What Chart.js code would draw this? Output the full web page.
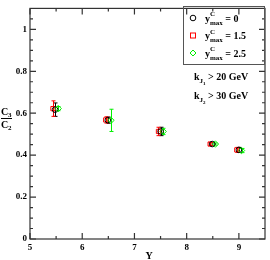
<!DOCTYPE html>
<html>
<head>
<meta charset="utf-8">
<script src="https://cdn.jsdelivr.net/npm/chart.js@4"></script>
<style>html,body{margin:0;padding:0;background:#fff}canvas{display:block}</style>
</head>
<body>
<canvas id="c" width="270" height="260"></canvas>
<script>
const FAM = '"Liberation Serif", "Times New Roman", serif';

const xTicks = [5, 6, 7, 8, 9];
const xMinor = [5.5, 6.5, 7.5, 8.5];
const yTicks = [0, 0.2, 0.4, 0.6, 0.8, 1];
const yLabels = ["0", "0.2", "0.4", "0.6", "0.8", "1"];
const yMinor = [0.05, 0.1, 0.15, 0.25, 0.3, 0.35, 0.45, 0.5, 0.55, 0.65, 0.7, 0.75, 0.85, 0.9, 0.95, 1.05];

// y_max^C = 0
const xBlack = [5.48, 6.49, 7.5, 8.49, 9.0];
const yBlack = [0.617, 0.567, 0.513, 0.453, 0.425];
const eBlack = [0.032, 0.015, 0.02, 0.006, 0.012];
// y_max^C = 1.5
const xRed = [5.44, 6.45, 7.46, 8.45, 8.96];
const yRed = [0.622, 0.568, 0.513, 0.453, 0.425];
const eRed = [0.037, 0.015, 0.02, 0.006, 0.012];
// y_max^C = 2.5
const xGreen = [5.54, 6.55, 7.55, 8.55, 9.05];
const yGreen = [0.622, 0.566, 0.513, 0.453, 0.422];
const eGreen = [0.01, 0.053, 0.015, 0.005, 0.01];

const GREEN = "#00f000";

const SERIES = [
  { label: "y_max^C = 2.5", xs: xGreen, ys: yGreen, es: eGreen, color: GREEN, style: "rectRot", r: 3.2 },
  { label: "y_max^C = 0", xs: xBlack, ys: yBlack, es: eBlack, color: "#000000", style: "circle", r: 2.8 },
  { label: "y_max^C = 1.5", xs: xRed, ys: yRed, es: eRed, color: "#ff0000", style: "rect", r: 3 }
];

const ds = SERIES.map(s => ({
  label: s.label,
  data: s.xs.map((x, i) => ({ x, y: s.ys[i] })),
  borderColor: s.color,
  backgroundColor: "rgba(0,0,0,0)",
  pointStyle: s.style,
  pointRadius: s.r,
  borderWidth: 1,
  showLine: false,
  errs: s.es
}));

const decor = {
  id: "decor",
  beforeDatasetsDraw(chart) {
    const ctx = chart.ctx, sx = chart.scales.x, sy = chart.scales.y;
    ctx.save();
    ctx.lineWidth = 1;
    chart.data.datasets.forEach(d => {
      ctx.strokeStyle = d.borderColor;
      d.data.forEach((p, i) => {
        const px = Math.round(sx.getPixelForValue(p.x)) + 0.5;
        const y1 = sy.getPixelForValue(p.y + d.errs[i]);
        const y2 = sy.getPixelForValue(p.y - d.errs[i]);
        ctx.beginPath();
        ctx.moveTo(px, y1); ctx.lineTo(px, y2);
        ctx.moveTo(px - 2, y1); ctx.lineTo(px + 2, y1);
        ctx.moveTo(px - 2, y2); ctx.lineTo(px + 2, y2);
        ctx.stroke();
      });
    });
    ctx.restore();
  },
  afterDraw(chart) {
    const ctx = chart.ctx, a = chart.chartArea, sx = chart.scales.x, sy = chart.scales.y;
    ctx.save();
    // frame
    ctx.strokeStyle = "#333";
    ctx.lineWidth = 1.2;
    ctx.strokeRect(a.left, a.top, a.right - a.left, a.bottom - a.top);
    // inward ticks
    ctx.beginPath();
    const tx = (v, len) => {
      const p = sx.getPixelForValue(v);
      ctx.moveTo(p, a.bottom); ctx.lineTo(p, a.bottom - len);
      ctx.moveTo(p, a.top); ctx.lineTo(p, a.top + len);
    };
    const ty = (v, len) => {
      const p = sy.getPixelForValue(v);
      ctx.moveTo(a.left, p); ctx.lineTo(a.left + len, p);
      ctx.moveTo(a.right, p); ctx.lineTo(a.right - len, p);
    };
    xTicks.forEach(v => tx(v, 6));
    xMinor.forEach(v => tx(v, 3));
    yTicks.forEach(v => ty(v, 6));
    yMinor.forEach(v => ty(v, 3));
    ctx.stroke();

    // legend box
    ctx.lineWidth = 1;
    ctx.strokeStyle = "#555";
    ctx.strokeRect(183.5, 6.5, 81, 58);
    ctx.lineWidth = 1;
    ctx.strokeStyle = "#000";
    ctx.beginPath(); ctx.arc(193, 18, 2.8, 0, Math.PI * 2); ctx.stroke();
    ctx.strokeStyle = "#ff0000";
    ctx.strokeRect(190.5, 33, 5, 5);
    ctx.strokeStyle = GREEN;
    ctx.beginPath();
    ctx.moveTo(193, 50); ctx.lineTo(196, 53); ctx.lineTo(193, 56); ctx.lineTo(190, 53); ctx.closePath();
    ctx.stroke();

    ctx.fillStyle = "#000";
    ctx.textBaseline = "alphabetic";
    ctx.textAlign = "left";
    const big = "bold 10px " + FAM, sm = "bold 7px " + FAM, tiny = "bold 5px " + FAM;
    const rowY = (x, base, val) => {
      ctx.font = big; ctx.fillText("y", x, base);
      const w = ctx.measureText("y").width;
      ctx.font = sm;
      ctx.fillText("C", x + w, base - 5.5);
      ctx.fillText("max", x + w, base + 3);
      const w2 = Math.max(ctx.measureText("C").width, ctx.measureText("max").width);
      ctx.font = big; ctx.fillText(" = " + val, x + w + w2, base);
    };
    rowY(205, 21.5, "0");
    rowY(205, 39, "1.5");
    rowY(205, 56.5, "2.5");

    const rowK = (x, base, n, txt) => {
      ctx.font = big; ctx.fillText("k", x, base);
      let w = ctx.measureText("k").width;
      ctx.font = sm; ctx.fillText("J", x + w, base + 3);
      w += ctx.measureText("J").width;
      ctx.font = tiny; ctx.fillText(n, x + w, base + 5);
      w += ctx.measureText(n).width;
      ctx.font = big; ctx.fillText(txt, x + w, base);
    };
    rowK(194, 80, "1", " > 20 GeV");
    rowK(194, 99, "2", " > 30 GeV");

    // y title as fraction C3 / C2
    ctx.font = big; ctx.fillText("C", 1, 115);
    ctx.font = sm; ctx.fillText("3", 8, 117);
    ctx.lineWidth = 1; ctx.strokeStyle = "#000";
    ctx.beginPath(); ctx.moveTo(1, 118.5); ctx.lineTo(12, 118.5); ctx.stroke();
    ctx.font = big; ctx.fillText("C", 1, 128);
    ctx.font = sm; ctx.fillText("2", 8, 130);

    // x title
    ctx.font = big; ctx.textAlign = "center";
    ctx.fillText("Y", 149, 259);
    ctx.restore();
  }
};

new Chart(document.getElementById("c"), {
  type: "scatter",
  data: { datasets: ds },
  options: {
    responsive: false,
    animation: false,
    layout: { padding: { top: 1, right: 1, left: 0, bottom: 0 } },
    plugins: { legend: { display: false }, tooltip: { enabled: false } },
    scales: {
      x: {
        type: "linear", min: 5, max: 9.5,
        afterBuildTicks: s => { s.ticks = xTicks.map(v => ({ value: v })); },
        afterFit: s => { s.height = 21; },
        grid: { display: false, drawTicks: false },
        border: { display: false },
        ticks: { autoSkip: false, maxRotation: 0, padding: 3, color: "#000", font: { family: FAM, size: 9, weight: "bold" } }
      },
      y: {
        type: "linear", min: 0, max: 1.1,
        afterBuildTicks: s => { s.ticks = yTicks.map(v => ({ value: v })); },
        afterFit: s => { s.width = 30; },
        grid: { display: false, drawTicks: false },
        border: { display: false },
        ticks: { autoSkip: false, padding: 3, color: "#000", font: { family: FAM, size: 9, weight: "bold" },
          callback: (v, i) => yLabels[i] }
      }
    }
  },
  plugins: [decor]
});
</script>
</body>
</html>
